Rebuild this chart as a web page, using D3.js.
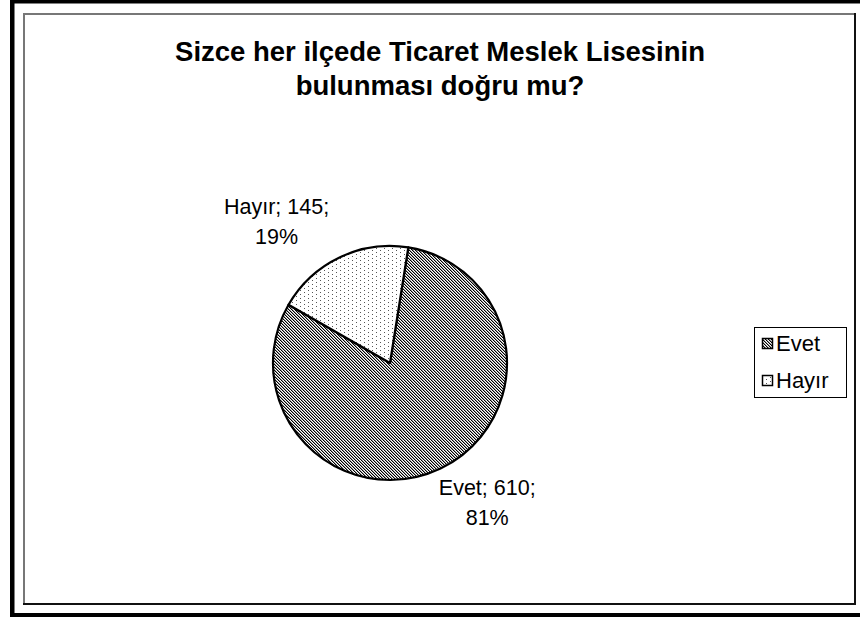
<!DOCTYPE html>
<html><head><meta charset="utf-8">
<script src="https://cdn.jsdelivr.net/npm/d3@7"></script>
<style>
body{margin:0;background:#fff}
svg{display:block}
text{font-family:"Liberation Sans", Arial, Helvetica, sans-serif;fill:#000}
</style>
</head><body>
<svg id="c" width="860" height="617"></svg>
<script>
const categories = ["Evet", "Hayır"];
const values = [610, 145];
const titleLines = ["Sizce her ilçede Ticaret Meslek Lisesinin", "bulunması doğru mu?"];
const patternIds = ["hatch", "dots"];

const svg = d3.select("#c");
const W = 860, H = 617;
svg.append("rect").attr("width", W).attr("height", H).attr("fill", "#fff");

// patterns
const defs = svg.append("defs");
const ph = defs.append("pattern").attr("id", "hatch").attr("patternUnits", "userSpaceOnUse")
  .attr("x", 0).attr("y", 0).attr("width", 6).attr("height", 6);
ph.append("rect").attr("width", 6).attr("height", 6).attr("fill", "#fff");
d3.range(6).forEach(k => {
  ph.append("rect").attr("x", k).attr("y", k).attr("width", 1).attr("height", 1).attr("fill", "#000").attr("shape-rendering", "crispEdges");
  ph.append("rect").attr("x", (k + 3) % 6).attr("y", k).attr("width", 1).attr("height", 1).attr("fill", "#000").attr("shape-rendering", "crispEdges");
  ph.append("rect").attr("x", (k + 1) % 6).attr("y", k).attr("width", 1).attr("height", 1).attr("fill", "#999").attr("shape-rendering", "crispEdges");
  ph.append("rect").attr("x", (k + 4) % 6).attr("y", k).attr("width", 1).attr("height", 1).attr("fill", "#999").attr("shape-rendering", "crispEdges");
});
const pd = defs.append("pattern").attr("id", "dots").attr("patternUnits", "userSpaceOnUse")
  .attr("x", 0).attr("y", 0).attr("width", 8).attr("height", 8);
pd.append("rect").attr("width", 8).attr("height", 8).attr("fill", "#fff");
[[2, 1], [2, 5], [6, 3], [6, 7]].forEach(([x, y]) =>
  pd.append("rect").attr("x", x).attr("y", y).attr("width", 1).attr("height", 1).attr("fill", "#555").attr("shape-rendering", "crispEdges"));

// outer thick border
svg.append("rect").attr("x", 10).attr("y", 0).attr("width", 4.5).attr("height", H).attr("fill", "#000");
svg.append("rect").attr("x", 10).attr("y", 0).attr("width", W - 10).attr("height", 3.5).attr("fill", "#000");
svg.append("rect").attr("x", 10).attr("y", 613).attr("width", W - 10).attr("height", 4).attr("fill", "#000");

// inner chart frame
svg.append("rect").attr("x", 24).attr("y", 14).attr("width", 831).attr("height", 590)
  .attr("fill", "#fff").attr("stroke", "#777").attr("stroke-width", 2);
svg.append("line").attr("x1", 855).attr("x2", 855).attr("y1", 13).attr("y2", 605).attr("stroke", "#111").attr("stroke-width", 2);
svg.append("line").attr("x1", 23).attr("x2", 856).attr("y1", 604).attr("y2", 604).attr("stroke", "#111").attr("stroke-width", 2);

// title
const title = svg.append("text").attr("text-anchor", "middle")
  .style("font-weight", "bold").style("font-size", "27.5px");
titleLines.forEach((t, i) => title.append("tspan").attr("x", 440).attr("y", 61 + i * 34).text(t));

// pie
const cx = 390, cy = 363, r = 117;
const start = 9 * Math.PI / 180;
const pie = d3.pie().sort(null).value(d => d).startAngle(start).endAngle(start + 2 * Math.PI);
const arcs = pie(values);
const arc = d3.arc().innerRadius(0).outerRadius(r);
const total = d3.sum(values);
const pct = d3.format(".0%");

const g = svg.append("g").attr("transform", `translate(${cx},${cy})`);
g.selectAll("path").data(arcs).join("path")
  .attr("d", arc)
  .attr("fill", (d, i) => `url(#${patternIds[i]})`)
  .attr("stroke", "#000").attr("stroke-width", 2.2).attr("stroke-linejoin", "round");

// labels (outside end)
const fs = 21.5, lh = 30, gap = 10;
arcs.forEach((a, i) => {
  const mid = (a.startAngle + a.endAngle) / 2;
  const px = cx + (r + gap) * Math.sin(mid);
  const py = cy - (r + gap) * Math.cos(mid);
  const lines = [`${categories[i]}; ${values[i]};`, pct(values[i] / total)];
  const t = svg.append("text").attr("text-anchor", "middle").style("font-size", fs + "px");
  const spans = lines.map(l => t.append("tspan").text(l));
  const w = d3.max(spans, s => s.node().getComputedTextLength());
  const h = lh + fs;
  const pad = 6;
  const left = Math.sin(mid) >= 0 ? px - pad : px - w - pad;
  const top = Math.cos(mid) < 0 ? py : py - h;
  spans.forEach((s, k) => s.attr("x", left + w / 2).attr("y", top + 0.8 * fs + k * lh));
});

// legend
const lg = svg.append("g");
lg.append("rect").attr("x", 754.5).attr("y", 327.5).attr("width", 92).attr("height", 70)
  .attr("fill", "#fff").attr("stroke", "#000").attr("stroke-width", 1);
categories.forEach((c, i) => {
  const y = 338 + i * 37;
  lg.append("rect").attr("x", 762.5).attr("y", y + 0.5).attr("width", 10).attr("height", 10)
    .attr("fill", `url(#${patternIds[i]})`).attr("stroke", "#000").attr("stroke-width", 1.5);
  lg.append("text").attr("x", 776).attr("y", y + 12.5).style("font-size", "22px").text(c);
});
</script>
</body></html>
